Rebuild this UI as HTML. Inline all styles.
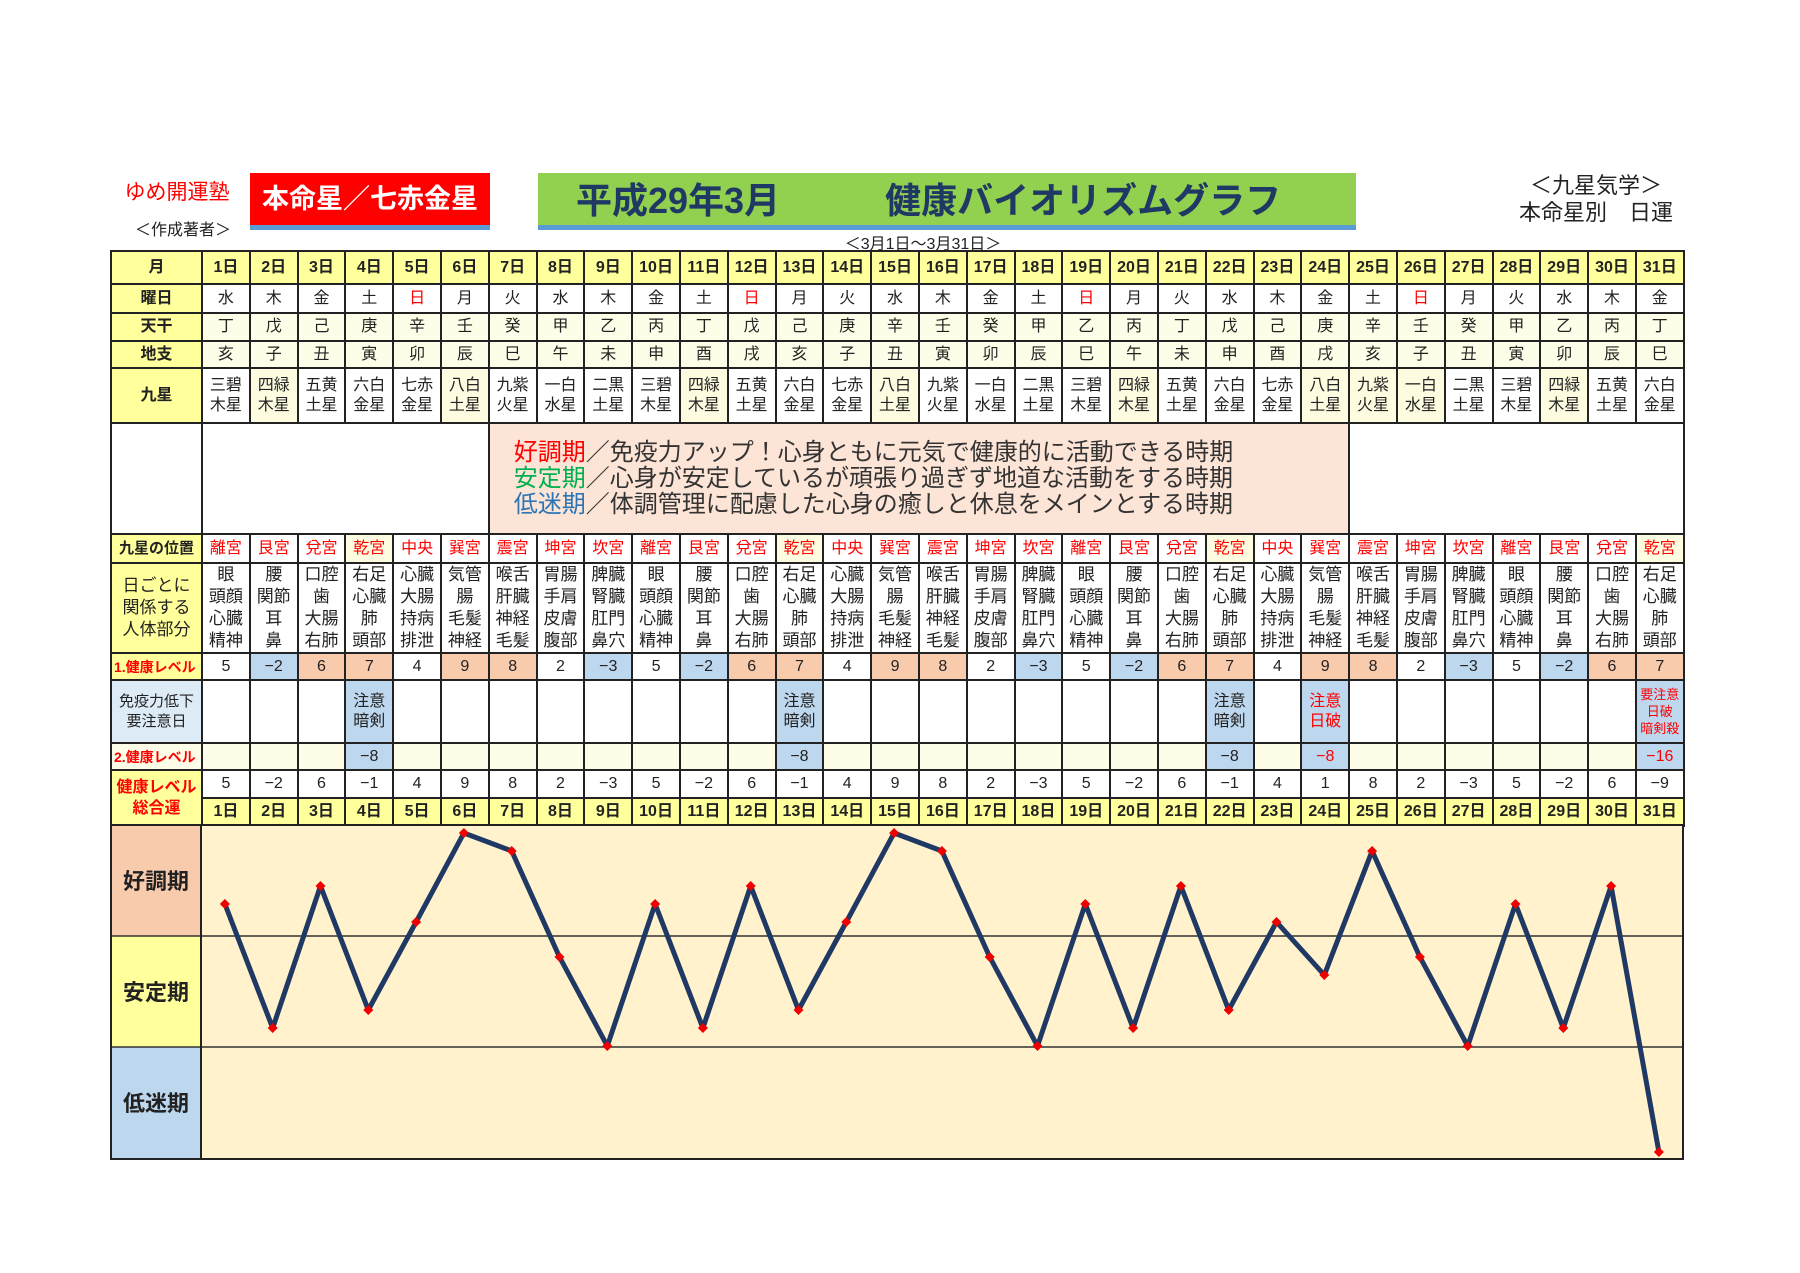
<!DOCTYPE html>
<html><head><meta charset="utf-8"><style>
body{margin:0;width:1800px;height:1273px;background:#fff;position:relative;overflow:hidden;font-family:"Liberation Sans","Noto Sans CJK JP",sans-serif;color:#222}
.a{position:absolute}
table{position:absolute;left:110px;top:250px;border-collapse:collapse;table-layout:fixed;width:1573px}
td{border:2px solid #222;text-align:center;padding:0;font-size:16px;line-height:20px;overflow:hidden}
td.l{background:#ffff9c;font-weight:bold;font-size:16px}
tr.h td{background:#ffff9c;font-weight:bold}
tr.c td{background:#fdfde8}
tr.c td.l{background:#ffff9c}
.r{color:#f00}
td.lr{background:#ffff9c;color:#f00;font-weight:bold;font-size:14px;text-align:left;padding-left:2px}
tr.p td{color:#f00}
tr.b td{font-size:17px;line-height:22px}
.s{background:#f8cbad!important}.bl{background:#bdd7ee!important}
.y{background:#fefce0!important}
</style></head><body>
<div class="a" style="left:112px;top:176px;width:130px;text-align:center;color:#f00;font-size:21px">ゆめ開運塾</div>
<div class="a" style="left:128px;top:216px;width:110px;text-align:center;font-size:16px">＜作成著者＞</div>
<div class="a" style="left:250px;top:173px;width:240px;height:52px;background:#f00;border-bottom:5px solid #5b9bd5;color:#fff;font-weight:bold;font-size:27px;line-height:52px;text-align:center">本命星／七赤金星</div>
<div class="a" style="left:538px;top:173px;width:818px;height:52px;background:#92d050;border-bottom:5px solid #5b9bd5;color:#1f3864;font-weight:bold;font-size:36px;line-height:55px;white-space:nowrap"><span style="margin-left:38px">平成29年3月</span><span style="margin-left:105px">健康バイオリズムグラフ</span></div>
<div class="a" style="left:818px;top:230px;width:210px;text-align:center;font-size:16px">＜3月1日～3月31日＞</div>
<div class="a" style="left:1496px;top:172px;width:200px;text-align:center;font-size:22px;line-height:27px">＜九星気学＞<br>本命星別　日運</div>
<table>
<colgroup><col style="width:91px"><col span="31" style="width:47.8px"></colgroup>
<tr class="h" style="height:33px"><td>月</td><td>1日</td><td>2日</td><td>3日</td><td>4日</td><td>5日</td><td>6日</td><td>7日</td><td>8日</td><td>9日</td><td>10日</td><td>11日</td><td>12日</td><td>13日</td><td>14日</td><td>15日</td><td>16日</td><td>17日</td><td>18日</td><td>19日</td><td>20日</td><td>21日</td><td>22日</td><td>23日</td><td>24日</td><td>25日</td><td>26日</td><td>27日</td><td>28日</td><td>29日</td><td>30日</td><td>31日</td></tr>
<tr style="height:29px"><td class="l">曜日</td><td>水</td><td>木</td><td>金</td><td>土</td><td class="r">日</td><td>月</td><td>火</td><td>水</td><td>木</td><td>金</td><td>土</td><td class="r">日</td><td>月</td><td>火</td><td>水</td><td>木</td><td>金</td><td>土</td><td class="r">日</td><td>月</td><td>火</td><td>水</td><td>木</td><td>金</td><td>土</td><td class="r">日</td><td>月</td><td>火</td><td>水</td><td>木</td><td>金</td></tr>
<tr class="c" style="height:28px"><td class="l">天干</td><td>丁</td><td>戊</td><td>己</td><td>庚</td><td>辛</td><td>壬</td><td>癸</td><td>甲</td><td>乙</td><td>丙</td><td>丁</td><td>戊</td><td>己</td><td>庚</td><td>辛</td><td>壬</td><td>癸</td><td>甲</td><td>乙</td><td>丙</td><td>丁</td><td>戊</td><td>己</td><td>庚</td><td>辛</td><td>壬</td><td>癸</td><td>甲</td><td>乙</td><td>丙</td><td>丁</td></tr>
<tr class="c" style="height:27px"><td class="l">地支</td><td>亥</td><td>子</td><td>丑</td><td>寅</td><td>卯</td><td>辰</td><td>巳</td><td>午</td><td>未</td><td>申</td><td>酉</td><td>戌</td><td>亥</td><td>子</td><td>丑</td><td>寅</td><td>卯</td><td>辰</td><td>巳</td><td>午</td><td>未</td><td>申</td><td>酉</td><td>戌</td><td>亥</td><td>子</td><td>丑</td><td>寅</td><td>卯</td><td>辰</td><td>巳</td></tr>
<tr style="height:55px"><td class="l">九星</td><td>三碧<br>木星</td><td class="y">四緑<br>木星</td><td>五黄<br>土星</td><td>六白<br>金星</td><td>七赤<br>金星</td><td class="y">八白<br>土星</td><td>九紫<br>火星</td><td>一白<br>水星</td><td>二黒<br>土星</td><td>三碧<br>木星</td><td class="y">四緑<br>木星</td><td>五黄<br>土星</td><td>六白<br>金星</td><td>七赤<br>金星</td><td class="y">八白<br>土星</td><td>九紫<br>火星</td><td>一白<br>水星</td><td>二黒<br>土星</td><td>三碧<br>木星</td><td class="y">四緑<br>木星</td><td>五黄<br>土星</td><td>六白<br>金星</td><td>七赤<br>金星</td><td class="y">八白<br>土星</td><td class="y">九紫<br>火星</td><td class="y">一白<br>水星</td><td>二黒<br>土星</td><td>三碧<br>木星</td><td class="y">四緑<br>木星</td><td>五黄<br>土星</td><td>六白<br>金星</td></tr>
<tr style="height:111px"><td></td><td colspan="6"></td><td colspan="18" style="background:#fce4d6;text-align:left;font-size:24px;line-height:26px;padding-left:24px;color:#333;white-space:nowrap"><span class="r">好調期</span>／免疫力アップ！心身ともに元気で健康的に活動できる時期<br><span style="color:#00b050">安定期</span>／心身が安定しているが頑張り過ぎず地道な活動をする時期<br><span style="color:#2e75b6">低迷期</span>／体調管理に配慮した心身の癒しと休息をメインとする時期</td><td colspan="7"></td></tr>
<tr class="p" style="height:29px"><td class="l" style="color:#222;font-size:15px">九星の位置</td><td>離宮</td><td>艮宮</td><td>兌宮</td><td class="y">乾宮</td><td>中央</td><td>巽宮</td><td>震宮</td><td>坤宮</td><td>坎宮</td><td>離宮</td><td>艮宮</td><td>兌宮</td><td class="y">乾宮</td><td>中央</td><td>巽宮</td><td>震宮</td><td>坤宮</td><td>坎宮</td><td>離宮</td><td>艮宮</td><td>兌宮</td><td class="y">乾宮</td><td>中央</td><td>巽宮</td><td>震宮</td><td>坤宮</td><td>坎宮</td><td>離宮</td><td>艮宮</td><td>兌宮</td><td class="y">乾宮</td></tr>
<tr class="b" style="height:90px"><td class="l" style="font-weight:normal;font-size:17px">日ごとに<br>関係する<br>人体部分</td>
<td>眼<br>頭顔<br>心臓<br>精神</td><td>腰<br>関節<br>耳<br>鼻</td><td>口腔<br>歯<br>大腸<br>右肺</td><td>右足<br>心臓<br>肺<br>頭部</td><td>心臓<br>大腸<br>持病<br>排泄</td><td>気管<br>腸<br>毛髪<br>神経</td><td>喉舌<br>肝臓<br>神経<br>毛髪</td><td>胃腸<br>手肩<br>皮膚<br>腹部</td><td>脾臓<br>腎臓<br>肛門<br>鼻穴</td>
<td>眼<br>頭顔<br>心臓<br>精神</td><td>腰<br>関節<br>耳<br>鼻</td><td>口腔<br>歯<br>大腸<br>右肺</td><td>右足<br>心臓<br>肺<br>頭部</td><td>心臓<br>大腸<br>持病<br>排泄</td><td>気管<br>腸<br>毛髪<br>神経</td><td>喉舌<br>肝臓<br>神経<br>毛髪</td><td>胃腸<br>手肩<br>皮膚<br>腹部</td><td>脾臓<br>腎臓<br>肛門<br>鼻穴</td>
<td>眼<br>頭顔<br>心臓<br>精神</td><td>腰<br>関節<br>耳<br>鼻</td><td>口腔<br>歯<br>大腸<br>右肺</td><td>右足<br>心臓<br>肺<br>頭部</td><td>心臓<br>大腸<br>持病<br>排泄</td><td>気管<br>腸<br>毛髪<br>神経</td><td>喉舌<br>肝臓<br>神経<br>毛髪</td><td>胃腸<br>手肩<br>皮膚<br>腹部</td><td>脾臓<br>腎臓<br>肛門<br>鼻穴</td>
<td>眼<br>頭顔<br>心臓<br>精神</td><td>腰<br>関節<br>耳<br>鼻</td><td>口腔<br>歯<br>大腸<br>右肺</td><td>右足<br>心臓<br>肺<br>頭部</td></tr>
<tr style="height:27px"><td class="lr">1.健康レベル</td><td>5</td><td class="bl">−2</td><td class="s">6</td><td class="s">7</td><td>4</td><td class="s">9</td><td class="s">8</td><td>2</td><td class="bl">−3</td><td>5</td><td class="bl">−2</td><td class="s">6</td><td class="s">7</td><td>4</td><td class="s">9</td><td class="s">8</td><td>2</td><td class="bl">−3</td><td>5</td><td class="bl">−2</td><td class="s">6</td><td class="s">7</td><td>4</td><td class="s">9</td><td class="s">8</td><td>2</td><td class="bl">−3</td><td>5</td><td class="bl">−2</td><td class="s">6</td><td class="s">7</td></tr>
<tr style="height:63px"><td style="background:#ddebf7;font-size:15px;line-height:20px">免疫力低下<br>要注意日</td><td></td><td></td><td></td><td class="bl">注意<br>暗剣</td><td></td><td></td><td></td><td></td><td></td><td></td><td></td><td></td><td class="bl">注意<br>暗剣</td><td></td><td></td><td></td><td></td><td></td><td></td><td></td><td></td><td class="bl">注意<br>暗剣</td><td></td><td class="bl r">注意<br>日破</td><td></td><td></td><td></td><td></td><td></td><td></td><td class="bl r" style="font-size:13px;line-height:17px">要注意<br>日破<br>暗剣殺</td></tr>
<tr class="c" style="height:27px"><td class="lr">2.健康レベル</td><td></td><td></td><td></td><td class="bl">−8</td><td></td><td></td><td></td><td></td><td></td><td></td><td></td><td></td><td class="bl">−8</td><td></td><td></td><td></td><td></td><td></td><td></td><td></td><td></td><td class="bl">−8</td><td></td><td class="bl r">−8</td><td></td><td></td><td></td><td></td><td></td><td></td><td class="bl r">−16</td></tr>
<tr style="height:28px"><td rowspan="2" class="l" style="color:#f00;font-size:16px;line-height:21px">健康レベル<br>総合運</td><td>5</td><td>−2</td><td>6</td><td>−1</td><td>4</td><td>9</td><td>8</td><td>2</td><td>−3</td><td>5</td><td>−2</td><td>6</td><td>−1</td><td>4</td><td>9</td><td>8</td><td>2</td><td>−3</td><td>5</td><td>−2</td><td>6</td><td>−1</td><td>4</td><td>1</td><td>8</td><td>2</td><td>−3</td><td>5</td><td>−2</td><td>6</td><td>−9</td></tr>
<tr class="h" style="height:28px"><td>1日</td><td>2日</td><td>3日</td><td>4日</td><td>5日</td><td>6日</td><td>7日</td><td>8日</td><td>9日</td><td>10日</td><td>11日</td><td>12日</td><td>13日</td><td>14日</td><td>15日</td><td>16日</td><td>17日</td><td>18日</td><td>19日</td><td>20日</td><td>21日</td><td>22日</td><td>23日</td><td>24日</td><td>25日</td><td>26日</td><td>27日</td><td>28日</td><td>29日</td><td>30日</td><td>31日</td></tr>
</table>
<svg class="a" style="left:0;top:0" width="1800" height="1273">
<defs><marker id="d" viewBox="-5 -5 10 10" markerWidth="10" markerHeight="10" markerUnits="userSpaceOnUse" refX="0" refY="0"><path d="M0,-5L5,0L0,5L-5,0Z" fill="#e00"/></marker></defs>
<rect x="201" y="825" width="1482" height="334" fill="#fff2cc"/>
<rect x="111" y="825" width="90" height="111" fill="#f8cbad"/>
<rect x="111" y="936" width="90" height="111" fill="#ffff9c"/>
<rect x="111" y="1047" width="90" height="112" fill="#bdd7ee"/>
<line x1="111" y1="936" x2="1683" y2="936" stroke="#333" stroke-width="1.5"/>
<line x1="111" y1="1047" x2="1683" y2="1047" stroke="#333" stroke-width="1.5"/>
<rect x="111" y="825" width="1572" height="334" fill="none" stroke="#222" stroke-width="2"/>
<line x1="201" y1="825" x2="201" y2="1159" stroke="#222" stroke-width="2"/>
<g font-size="22" font-weight="bold" text-anchor="middle" fill="#222" font-family="Liberation Sans, Noto Sans CJK JP, sans-serif">
<text x="156" y="889">好調期</text><text x="156" y="1000">安定期</text><text x="156" y="1111">低迷期</text></g>
<polyline fill="none" stroke="#1f3864" stroke-width="5" stroke-linejoin="round" marker-start="url(#d)" marker-mid="url(#d)" marker-end="url(#d)" points="224.9,904 272.7,1028 320.5,886 368.3,1010 416.1,922 463.9,833 511.7,851 559.5,957 607.3,1046 655.1,904 702.9,1028 750.7,886 798.5,1010 846.3,922 894.1,833 941.9,851 989.7,957 1037.5,1046 1085.3,904 1133.1,1028 1180.9,886 1228.7,1010 1276.5,922 1324.3,975 1372.1,851 1419.9,957 1467.7,1046 1515.5,904 1563.3,1028 1611.1,886 1658.9,1152"/>
</svg>
</body></html>
